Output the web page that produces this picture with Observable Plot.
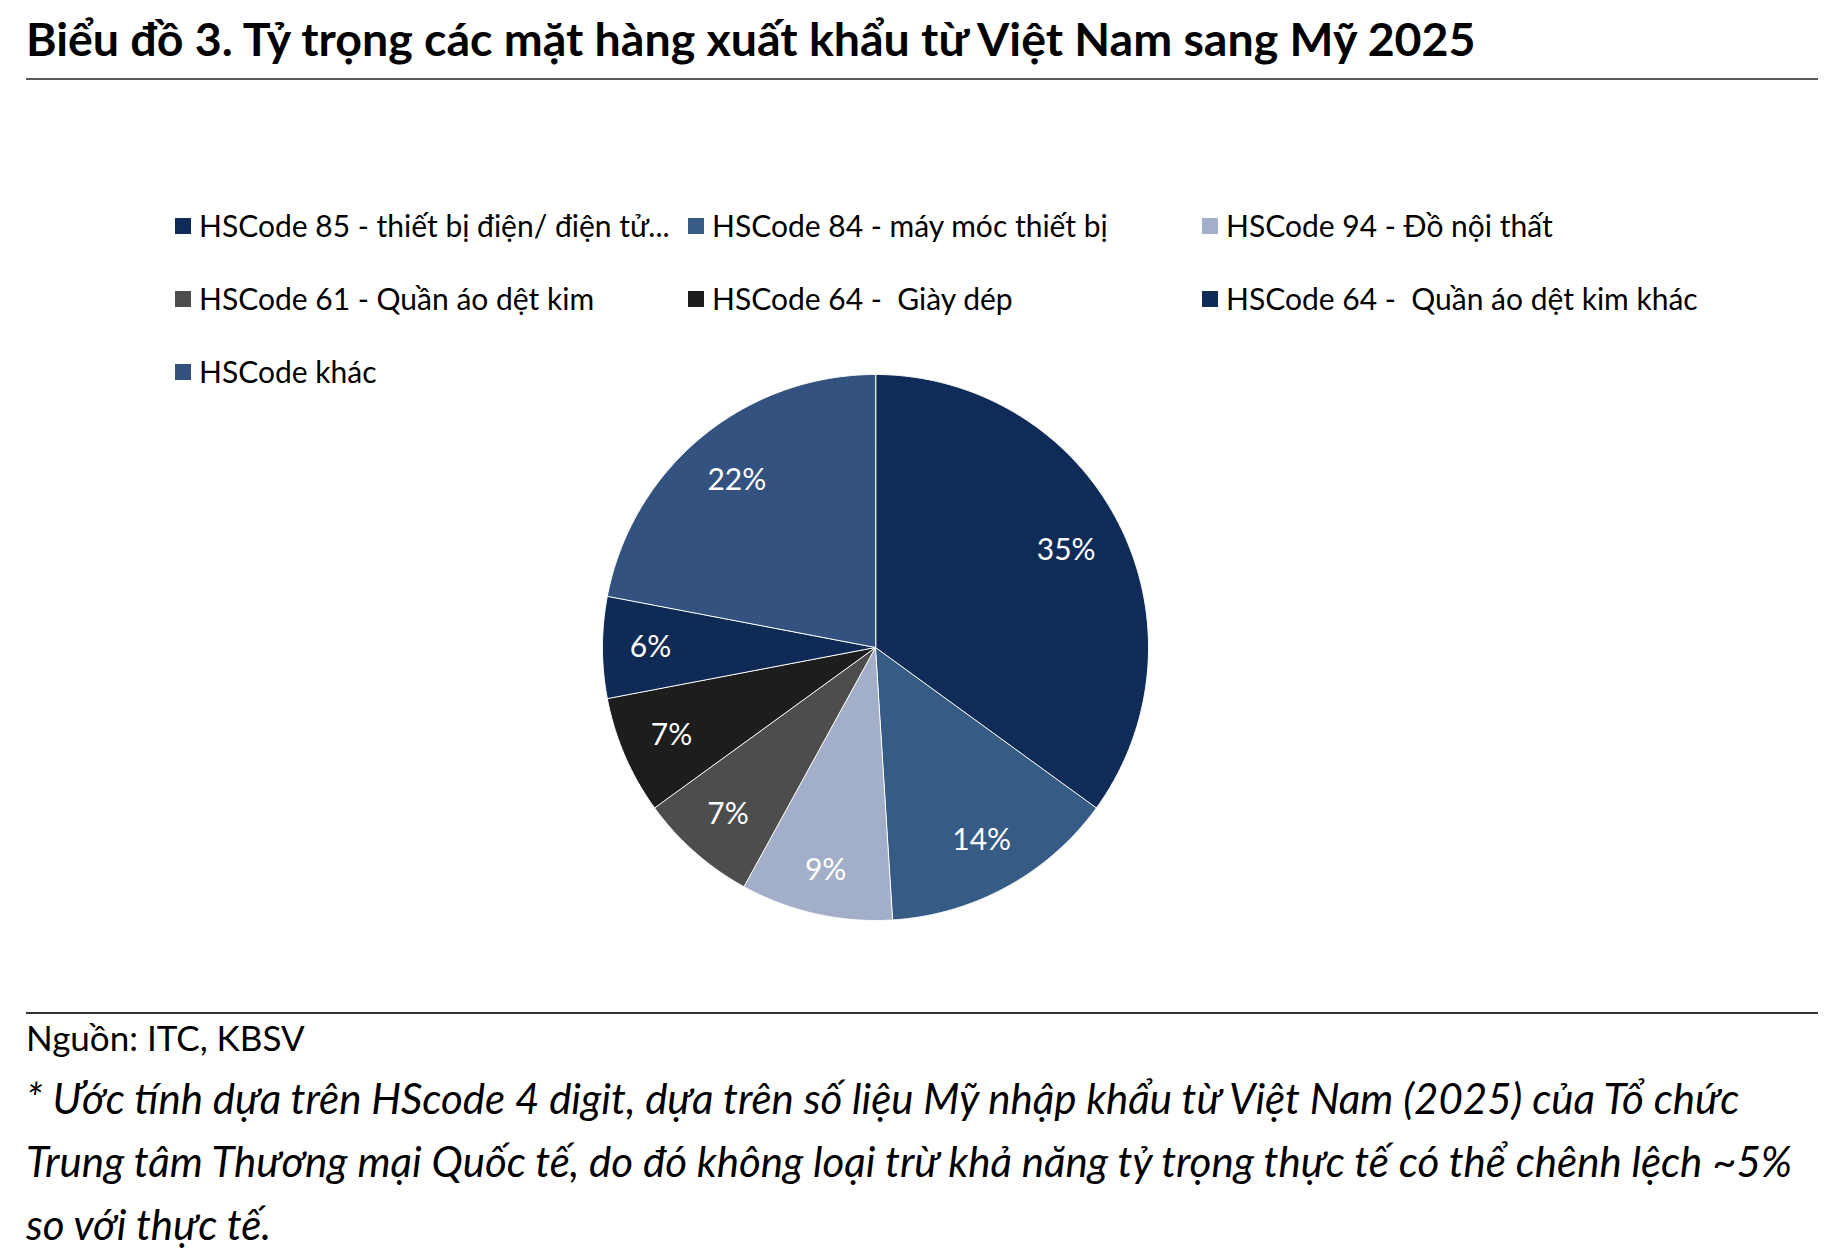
<!DOCTYPE html>
<html>
<head>
<meta charset="utf-8">
<script src="https://cdn.jsdelivr.net/npm/d3@7"></script>
<script src="https://cdn.jsdelivr.net/npm/@observablehq/plot@0.6"></script>
<style>
  html, body { margin: 0; padding: 0; background: #fff; }
  body { width: 1830px; height: 1260px; position: relative; overflow: hidden;
         font-family: Lato, "Noto Sans", sans-serif; color: #000; }
  .abs { position: absolute; white-space: nowrap; }
  #title { left: 26px; top: 15px; font-size: 46.5px; font-weight: 700; line-height: 46.5px; }
  .rule { position: absolute; left: 26px; width: 1792px; height: 2px; background: #595959; }
  .leg { font-size: 30px; line-height: 30px; }
  .sw { position: absolute; width: 16px; height: 16px; }
  #src { left: 26px; top: 1020px; font-size: 35px; line-height: 35px; }
  .note { left: 26px; font-size: 42px; line-height: 42px; font-style: italic; }
  #chart { position: absolute; left: 0; top: 350px; }
</style>
</head>
<body>
<div id="title" class="abs">Biểu đồ 3. Tỷ trọng các mặt hàng xuất khẩu từ Việt Nam sang Mỹ 2025</div>
<div class="rule" style="top:78px"></div>
<div id="legend"></div>
<div id="chart"></div>
<div class="rule" style="top:1012px; background:#333"></div>
<div id="src" class="abs">Nguồn: ITC, KBSV</div>
<div id="notes"></div>
<script>
// ---- Data ----
const categories = [
  "HSCode 85 - thiết bị điện/ điện tử...",
  "HSCode 84 - máy móc thiết bị",
  "HSCode 94 - Đồ nội thất",
  "HSCode 61 - Quần áo dệt kim",
  "HSCode 64 -  Giày dép",
  "HSCode 64 -  Quần áo dệt kim khác",
  "HSCode khác"
];
const shares = [35, 14, 9, 7, 7, 6, 22];
const colors = ["#0f2b57", "#365b84", "#a3afc8", "#4d4d4d", "#1d1d1d", "#0f2a55", "#34527f"];
const noteLines = [
  "* Ước tính dựa trên HScode 4 digit, dựa trên số liệu Mỹ nhập khẩu từ Việt Nam (2025) của Tổ chức",
  "Trung tâm Thương mại Quốc tế, do đó không loại trừ khả năng tỷ trọng thực tế có thể chênh lệch ~5%",
  "so với thực tế."
];

// ---- Legend (HTML) ----
const legend = document.getElementById("legend");
const colX = [175, 688, 1202];
const rowY = [226, 299, 372];
categories.forEach((c, i) => {
  const col = i % 3, row = Math.floor(i / 3);
  const sw = document.createElement("div");
  sw.className = "sw";
  sw.style.left = colX[col] + "px";
  sw.style.top = (rowY[row] - 8) + "px";
  sw.style.background = colors[i];
  legend.appendChild(sw);
  const t = document.createElement("div");
  t.className = "abs leg";
  t.style.left = (colX[col] + 24) + "px";
  t.style.top = (rowY[row] - 16) + "px";
  t.style.whiteSpace = "pre";
  t.textContent = c;
  legend.appendChild(t);
});

// ---- Notes ----
const notes = document.getElementById("notes");
noteLines.forEach((s, i) => {
  const d = document.createElement("div");
  d.className = "abs note";
  d.style.top = (1077 + i * 63) + "px";
  d.textContent = s;
  notes.appendChild(d);
});

// ---- Pie via Plot ----
const W = 1830, H = 620;
const cx = 875, cy = 297, R = 273;
const fs = 30;
const arcs = d3.pie().sort(null).value(d => d)(shares);
const polys = [];
arcs.forEach((a, i) => {
  polys.push({cat: categories[i], x: 0, y: 0});
  const n = Math.max(2, Math.ceil((a.endAngle - a.startAngle) / 0.005));
  for (let k = 0; k <= n; k++) {
    const t = a.startAngle + (a.endAngle - a.startAngle) * k / n;
    polys.push({cat: categories[i], x: Math.sin(t), y: Math.cos(t)});
  }
});
// labels placed inside the slice end, keeping the text box within the circle
const labelData = arcs.map((a, i) => {
  const m = (a.startAngle + a.endAngle) / 2;
  const label = shares[i] + "%";
  const hw = label.length * 0.3 * fs, hh = 0.36 * fs;
  const ext = Math.abs(Math.sin(m)) * hw + Math.abs(Math.cos(m)) * hh;
  const d = (R - 30 - ext) / R;
  return {cat: categories[i], x: d * Math.sin(m), y: d * Math.cos(m), label};
});

const chart = Plot.plot({
  width: W, height: H,
  margin: 0,
  x: {domain: [-cx / R, (W - cx) / R], range: [0, W], axis: null},
  y: {domain: [-(H - cy) / R, cy / R], range: [H, 0], axis: null},
  color: {domain: categories, range: colors},
  style: {fontFamily: "Lato, 'Noto Sans', sans-serif", background: "transparent"},
  marks: [
    Plot.line(polys, {x: "x", y: "y", z: "cat", fill: "cat", stroke: "white", strokeWidth: 1, curve: "linear-closed"}),
    Plot.text(labelData, {x: "x", y: "y", text: "label", fill: "white", fontSize: fs})
  ]
});
document.getElementById("chart").appendChild(chart);
</script>
</body>
</html>
